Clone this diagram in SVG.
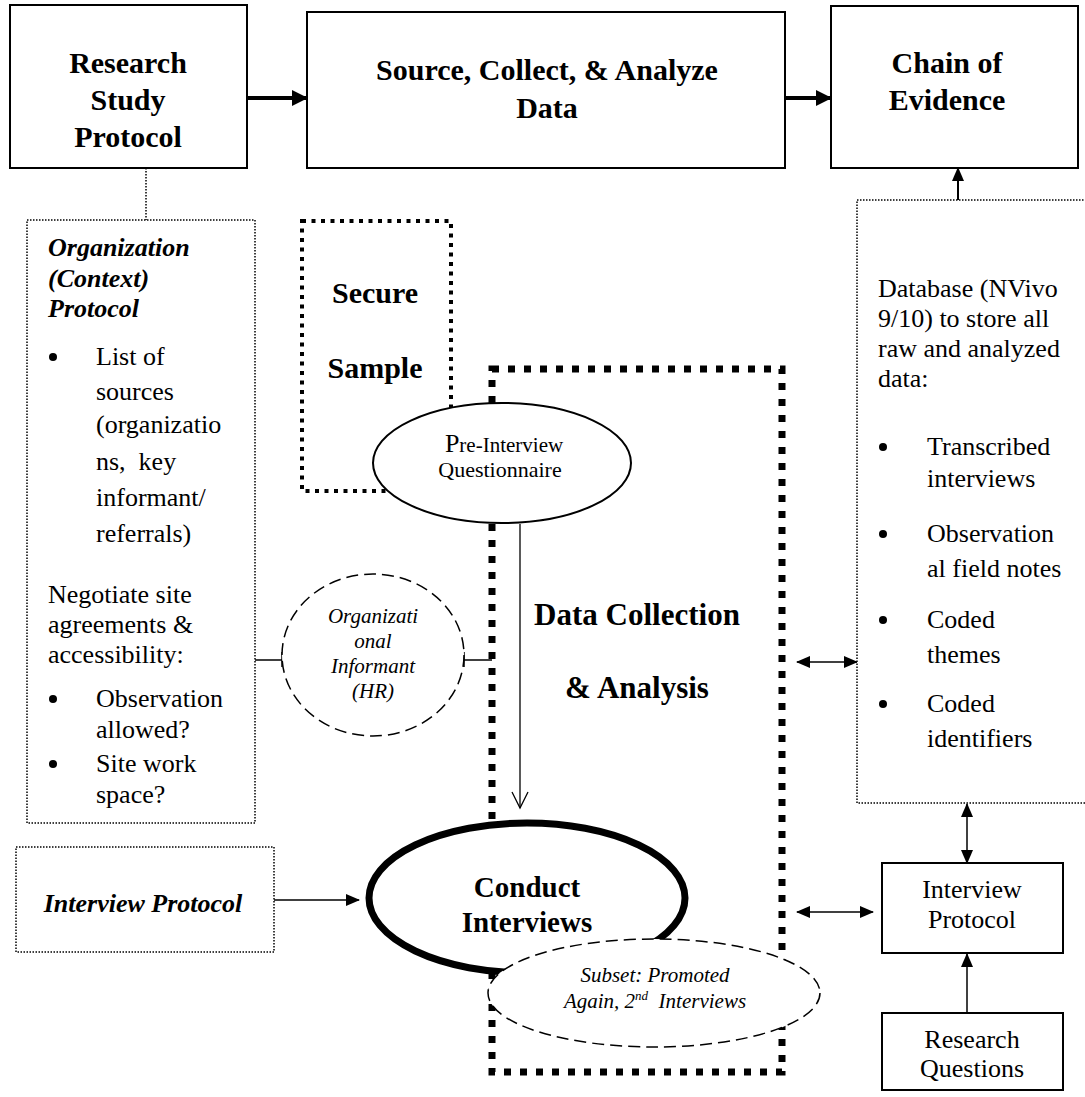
<svg xmlns="http://www.w3.org/2000/svg" width="1085" height="1097" viewBox="0 0 1085 1097">
<defs>
<marker id="ah" markerUnits="userSpaceOnUse" markerWidth="14" markerHeight="12" refX="13" refY="6" orient="auto-start-reverse">
<path d="M0,0 L14,6 L0,12 Z" fill="#000"/>
</marker>
<marker id="ahb" markerUnits="userSpaceOnUse" markerWidth="16" markerHeight="16" refX="15" refY="8" orient="auto">
<path d="M0,0 L16,8 L0,16 Z" fill="#000"/>
</marker>
<marker id="aho" markerUnits="userSpaceOnUse" markerWidth="20" markerHeight="20" refX="17" refY="10" orient="auto">
<path d="M1,2 L17,10 L1,18" fill="none" stroke="#000" stroke-width="1.3"/>
</marker>
</defs>
<style>
text{font-family:"Liberation Serif","Times New Roman",serif;fill:#000}
.t{font-size:30px;font-weight:bold}
.b{font-size:26px}
.bi{font-size:26px;font-weight:bold;font-style:italic}
.i{font-size:21px;font-style:italic}
.box{fill:#fff;stroke:#000;stroke-width:2}
.dot{fill:#fff;stroke:#000;stroke-width:1.5;stroke-dasharray:1.5 1.5}
.sq{fill:none;stroke:#000;stroke-width:4;stroke-dasharray:4 5.5}
.sqb{fill:none;stroke:#000;stroke-width:7;stroke-dasharray:7 9}
.dash{fill:#fff;stroke:#000;stroke-width:1.5;stroke-dasharray:12 6}
.ln{fill:none;stroke:#000;stroke-width:1.5}
</style>
<rect width="1085" height="1097" fill="#fff"/>

<g id="connectors">
<line x1="247" y1="98" x2="307" y2="98" stroke="#000" stroke-width="4" marker-end="url(#ahb)"/>
<line x1="785" y1="98" x2="831" y2="98" stroke="#000" stroke-width="4" marker-end="url(#ahb)"/>
<line x1="146" y1="168" x2="146" y2="220" class="ln" stroke-dasharray="1.5 1.5"/>
<line x1="958" y1="200" x2="958" y2="168" stroke="#000" stroke-width="2" marker-end="url(#ah)"/>
<line x1="255" y1="660" x2="282" y2="660" class="ln"/>
<line x1="282" y1="652" x2="282" y2="667" class="ln"/>
<line x1="464" y1="660" x2="492" y2="660" class="ln"/>
<line x1="464" y1="652" x2="464" y2="667" class="ln"/>
<line x1="520" y1="524" x2="520" y2="808" stroke="#000" stroke-width="1.3" marker-end="url(#aho)"/>
<line x1="274" y1="900" x2="359" y2="900" class="ln" marker-end="url(#ah)"/>
<line x1="797" y1="662" x2="857" y2="662" class="ln" marker-start="url(#ah)" marker-end="url(#ah)"/>
<line x1="797" y1="912" x2="873" y2="912" class="ln" marker-start="url(#ah)" marker-end="url(#ah)"/>
<line x1="967" y1="804" x2="967" y2="863" class="ln" marker-start="url(#ah)" marker-end="url(#ah)"/>
<line x1="967" y1="1013" x2="967" y2="954" class="ln" marker-end="url(#ah)"/>
</g>

<g id="research-study-protocol">
<rect class="box" x="10" y="5" width="237" height="163"/>
<text class="t" text-anchor="middle" x="128" y="73">Research</text>
<text class="t" text-anchor="middle" x="128" y="110">Study</text>
<text class="t" text-anchor="middle" x="128" y="147">Protocol</text>
</g>

<g id="source-collect">
<rect class="box" x="307" y="12" width="478" height="156"/>
<text class="t" text-anchor="middle" x="547" y="80">Source, Collect, &amp; Analyze</text>
<text class="t" text-anchor="middle" x="547" y="118">Data</text>
</g>

<g id="chain-of-evidence">
<rect class="box" x="831" y="6" width="247" height="162"/>
<text class="t" text-anchor="middle" x="947" y="73">Chain of</text>
<text class="t" text-anchor="middle" x="947" y="110">Evidence</text>
</g>

<g id="org-protocol">
<rect class="dot" x="27" y="220" width="228" height="603"/>
<text class="bi" x="48" y="256">Organization</text>
<text class="bi" x="48" y="287">(Context)</text>
<text class="bi" x="48" y="317">Protocol</text>
<circle cx="53" cy="357" r="4"/>
<text class="b" x="96" y="365">List of</text>
<text class="b" x="96" y="400">sources</text>
<text class="b" x="96" y="433">(organizatio</text>
<text class="b" x="96" y="470" xml:space="preserve">ns,  key</text>
<text class="b" x="96" y="506">informant/</text>
<text class="b" x="96" y="542">referrals)</text>
<text class="b" x="48" y="603">Negotiate site</text>
<text class="b" x="48" y="633">agreements &amp;</text>
<text class="b" x="48" y="663">accessibility:</text>
<circle cx="53" cy="699" r="4"/>
<text class="b" x="96" y="707">Observation</text>
<text class="b" x="96" y="738">allowed?</text>
<circle cx="53" cy="764" r="4"/>
<text class="b" x="96" y="772">Site work</text>
<text class="b" x="96" y="803">space?</text>
</g>

<g id="secure-sample">
<rect class="sq" x="302" y="221" width="149" height="270"/>
<text class="t" text-anchor="middle" x="375" y="303">Secure</text>
<text class="t" text-anchor="middle" x="375" y="378">Sample</text>
</g>

<g id="data-collection">
<rect class="sqb" x="492" y="369" width="290" height="703"/>
<text class="t" style="font-size:31px" text-anchor="middle" x="637" y="625">Data Collection</text>
<text class="t" style="font-size:31px" text-anchor="middle" x="637" y="698">&amp; Analysis</text>
</g>

<g id="pre-interview">
<ellipse cx="502" cy="463" rx="129" ry="60" fill="#fff" stroke="#000" stroke-width="2"/>
<text text-anchor="middle" x="504" y="452" style="font-size:21px"><tspan style="font-size:26px">P</tspan>re-Interview</text>
<text text-anchor="middle" x="500" y="477" style="font-size:22px">Questionnaire</text>
</g>

<g id="org-informant">
<ellipse class="dash" cx="373" cy="655" rx="91" ry="81"/>
<text class="i" text-anchor="middle" x="373" y="623">Organizati</text>
<text class="i" text-anchor="middle" x="373" y="648">onal</text>
<text class="i" text-anchor="middle" x="373" y="673">Informant</text>
<text class="i" text-anchor="middle" x="373" y="698">(HR)</text>
</g>

<g id="database">
<rect class="dot" x="857" y="200" width="240" height="603"/>
<text class="b" x="878" y="297">Database (NVivo</text>
<text class="b" x="878" y="327">9/10) to store all</text>
<text class="b" x="878" y="357">raw and analyzed</text>
<text class="b" x="878" y="387">data:</text>
<circle cx="883" cy="447" r="4"/>
<text class="b" x="927" y="455">Transcribed</text>
<text class="b" x="927" y="487">interviews</text>
<circle cx="883" cy="534" r="4"/>
<text class="b" x="927" y="542">Observation</text>
<text class="b" x="927" y="577">al field notes</text>
<circle cx="883" cy="620" r="4"/>
<text class="b" x="927" y="628">Coded</text>
<text class="b" x="927" y="663">themes</text>
<circle cx="883" cy="704" r="4"/>
<text class="b" x="927" y="712">Coded</text>
<text class="b" x="927" y="747">identifiers</text>
</g>

<g id="interview-protocol-left">
<rect class="dot" x="16" y="847" width="258" height="105"/>
<text class="bi" text-anchor="middle" x="143" y="912">Interview Protocol</text>
</g>

<g id="conduct-interviews">
<ellipse cx="527" cy="898" rx="158" ry="75" fill="#fff" stroke="#000" stroke-width="7"/>
<text class="t" style="font-size:29px" text-anchor="middle" x="527" y="897">Conduct</text>
<text class="t" style="font-size:29px" text-anchor="middle" x="527" y="932">Interviews</text>
</g>

<g id="subset">
<ellipse class="dash" cx="654" cy="993" rx="166" ry="54"/>
<text class="i" text-anchor="middle" x="655" y="982">Subset: Promoted</text>
<text class="i" text-anchor="middle" x="655" y="1008" xml:space="preserve">Again, 2<tspan dy="-8" style="font-size:13px">nd</tspan><tspan dy="8">  Interviews</tspan></text>
</g>

<g id="interview-protocol-right">
<rect class="box" x="882" y="863" width="181" height="90"/>
<text class="b" text-anchor="middle" x="972" y="898">Interview</text>
<text class="b" text-anchor="middle" x="972" y="928">Protocol</text>
</g>

<g id="research-questions">
<rect class="box" x="882" y="1013" width="181" height="77"/>
<text class="b" text-anchor="middle" x="972" y="1048">Research</text>
<text class="b" text-anchor="middle" x="972" y="1077">Questions</text>
</g>
</svg>
